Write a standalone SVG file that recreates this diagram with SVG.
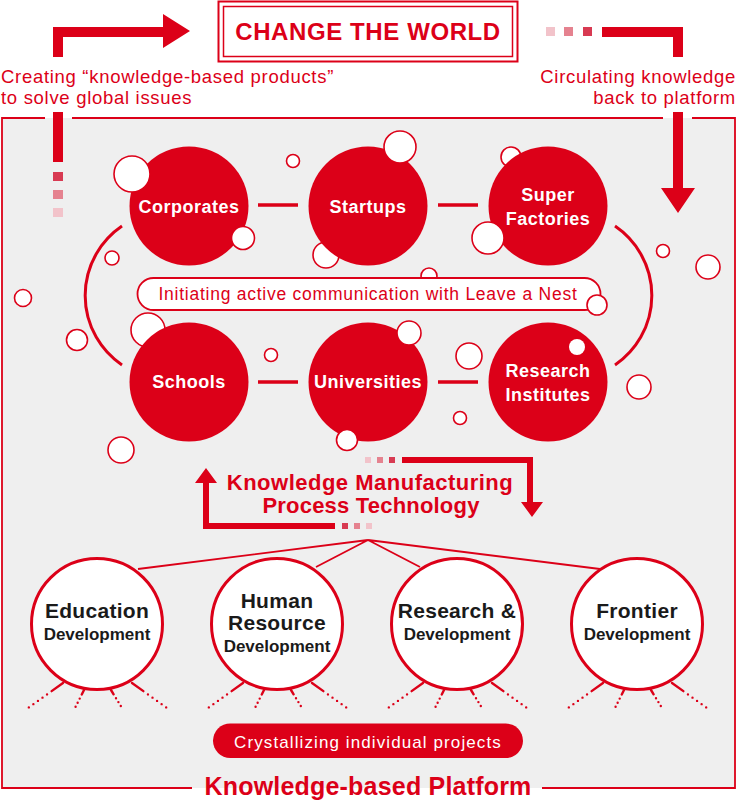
<svg xmlns="http://www.w3.org/2000/svg" xmlns:xlink="http://www.w3.org/1999/xlink" width="737" height="800" viewBox="0 0 737 800">
<style>
text{font-family:"Liberation Sans",Arial,Helvetica,sans-serif}
.red{fill:#dc0018}
.bub{fill:#ffffff;stroke:#dc0018;stroke-width:1.6}
.big{fill:#dc0018}
.wl{fill:#ffffff;font-weight:bold;font-size:18px;letter-spacing:0.5px;text-anchor:middle}
.cap{fill:#dc0018;font-size:18.5px;letter-spacing:0.7px}
.bl{fill:#1a1a1a;font-weight:bold;text-anchor:middle}
.h1{font-size:21px;letter-spacing:0.3px}
.h2{font-size:17px}
.link{stroke:#dc0018;stroke-width:3.5;fill:none}
.arc{stroke:#dc0018;stroke-width:3;fill:none}
.fan{stroke:#dc0018;stroke-width:1.8;fill:none}
.dc{fill:#ffffff;stroke:#dc0018;stroke-width:3}
.ray{stroke:#dc0018;stroke-width:2.4;fill:none;stroke-linecap:round}
.rl{stroke-dasharray:14 5.6 0 5.6 0 5.6 0 5.6 0 5.6 0 5.6 0 5.6}
.rs{stroke-dasharray:5 4.6 0 4.6 0 4.6 0 4.6 0 4.6}
.s1{fill:#d83a52}.s2{fill:#e5828f}.s3{fill:#f2c3ca}
</style>
<defs>
<g id="rays">
<path class="ray rl" d="M-34,59 L-69,84"/>
<path class="ray rs" d="M-13,66 L-22,84"/>
<path class="ray rs" d="M14,66 L25,84"/>
<path class="ray rl" d="M35,59 L70,84"/>
</g>
</defs>

<!-- platform -->
<rect x="2" y="118" width="733" height="670" fill="#efefef"/>
<path d="M45,118 H2 V788 H192 M542,788 H735 V118 H692 M663,118 H72" fill="none" stroke="#dc0018" stroke-width="1.8"/>

<!-- title -->
<g id="title">
<rect x="218.5" y="1.5" width="299" height="60" fill="#ffffff" stroke="#dc0018" stroke-width="2"/>
<rect x="223.5" y="6.5" width="289" height="50" fill="none" stroke="#dc0018" stroke-width="1.5"/>
<text x="368" y="40" text-anchor="middle" class="red" style="font-weight:bold;font-size:24px;letter-spacing:0.6px">CHANGE THE WORLD</text>
</g>

<!-- top captions -->
<g id="caption-left">
<text x="1" y="83" class="cap">Creating “knowledge-based products”</text>
<text x="1" y="104" class="cap">to solve global issues</text>
</g>
<g id="caption-right">
<text x="736" y="83" class="cap" text-anchor="end">Circulating knowledge</text>
<text x="736" y="104" class="cap" text-anchor="end">back to platform</text>
</g>

<g id="connectors">
<!-- top-left arrow -->
<path class="red" d="M53,57 V27 H163 V14 L190,31 L163,48 V37 H63 V57 Z"/>
<rect class="red" x="53" y="112" width="10" height="50"/>
<rect class="s1" x="53" y="172" width="10" height="9"/>
<rect class="s2" x="53" y="190" width="10" height="9"/>
<rect class="s3" x="53" y="208" width="10" height="9"/>
<!-- top-right arrow -->
<rect class="s3" x="546" y="27" width="9" height="9"/>
<rect class="s2" x="564" y="27" width="9" height="9"/>
<rect class="s1" x="583" y="27" width="9" height="9"/>
<path class="red" d="M602,27 H683 V57 H673 V37 H602 Z"/>
<path class="red" d="M673,112 H683 V188 H695 L678,213 L661,188 H673 Z"/>
<!-- links between circles -->
<path class="link" d="M258,205 H298 M438,205 H478 M258,382 H298 M438,382 H478"/>
<path class="arc" d="M122,226 A84,84 0 0 0 122,365"/>
<path class="arc" d="M615,226 A84,84 0 0 1 615,365"/>
<!-- knowledge manufacturing arrows -->
<rect class="s3" x="365" y="457" width="6" height="6"/>
<rect class="s2" x="377" y="457" width="6" height="6"/>
<rect class="s1" x="389" y="457" width="6" height="6"/>
<path class="red" d="M402,457 H533 V502 H543 L532,517 L521,502 H527 V463 H402 Z"/>
<path class="red" d="M335,529 H203 V483 H195 L206,468 L217,483 H209 V523 H335 Z"/>
<rect class="s1" x="342" y="523" width="6" height="6"/>
<rect class="s2" x="354" y="523" width="6" height="6"/>
<rect class="s3" x="366" y="523" width="6" height="6"/>
<!-- fan lines -->
<path class="fan" d="M368,540 L138,569 M368,540 L316,567 M368,540 L420,567 M368,540 L600,569"/>
</g>

<!-- bubbles behind -->
<g id="bubbles-back">
<circle class="bub" cx="326" cy="255" r="13"/>
<circle class="bub" cx="511" cy="157" r="10"/>
<circle class="bub" cx="148" cy="330" r="17"/>
<circle class="bub" cx="429" cy="276" r="8"/>
</g>

<g id="node-corporates">
<circle class="big" cx="189" cy="206" r="59.5"/>
<text class="wl" x="189" y="213">Corporates</text>
</g>
<g id="node-startups">
<circle class="big" cx="368" cy="206" r="59.5"/>
<text class="wl" x="368" y="213">Startups</text>
</g>
<g id="node-superfactories">
<circle class="big" cx="548" cy="206" r="59.5"/>
<text class="wl" x="548" y="201">Super</text>
<text class="wl" x="548" y="225">Factories</text>
</g>
<g id="node-schools">
<circle class="big" cx="189" cy="382" r="59.5"/>
<text class="wl" x="189" y="388">Schools</text>
</g>
<g id="node-universities">
<circle class="big" cx="368" cy="382" r="59.5"/>
<text class="wl" x="368" y="388">Universities</text>
</g>
<g id="node-research-institutes">
<circle class="big" cx="548" cy="382" r="59.5"/>
<text class="wl" x="548" y="377">Research</text>
<text class="wl" x="548" y="401">Institutes</text>
</g>

<g id="communication">
<rect x="137.5" y="278" width="463" height="32" rx="16" fill="#ffffff" stroke="#dc0018" stroke-width="1.8"/>
<text x="368" y="300" class="red" text-anchor="middle" style="font-size:17.5px;letter-spacing:0.75px">Initiating active communication with Leave a Nest</text>
</g>

<!-- bubbles front -->
<g id="bubbles-front">
<circle class="bub" cx="132" cy="174" r="18"/>
<circle class="bub" cx="293" cy="161" r="6.5"/>
<circle class="bub" cx="243" cy="238" r="11.5"/>
<circle class="bub" cx="400" cy="147" r="16"/>
<circle class="bub" cx="488" cy="238" r="16"/>
<circle class="bub" cx="112" cy="258" r="7"/>
<circle class="bub" cx="23" cy="298" r="8.5"/>
<circle class="bub" cx="77" cy="340" r="10.5"/>
<circle class="bub" cx="121" cy="450" r="13"/>
<circle class="bub" cx="271" cy="355" r="6.5"/>
<circle class="bub" cx="347" cy="440" r="10.5"/>
<circle class="bub" cx="409" cy="333" r="12"/>
<circle class="bub" cx="469" cy="356" r="13"/>
<circle class="bub" cx="460" cy="418" r="6.5"/>
<circle class="bub" cx="597" cy="305" r="10"/>
<circle class="bub" cx="663" cy="251" r="6.5"/>
<circle class="bub" cx="708" cy="267" r="12"/>
<circle class="bub" cx="639" cy="387" r="12"/>
<circle cx="577" cy="347" r="8" fill="#ffffff"/>
</g>

<g id="kmpt">
<text x="370" y="490" class="red" text-anchor="middle" style="font-weight:bold;font-size:22px;letter-spacing:0.5px">Knowledge Manufacturing</text>
<text x="371" y="513" class="red" text-anchor="middle" style="font-weight:bold;font-size:22px;letter-spacing:0.2px">Process Technology</text>
</g>

<g id="node-education">
<use xlink:href="#rays" href="#rays" x="97" y="624"/>
<circle class="dc" cx="97" cy="624" r="65.5"/>
<text class="bl h1" x="97" y="618">Education</text>
<text class="bl h2" x="97" y="640">Development</text>
</g>
<g id="node-human-resource">
<use xlink:href="#rays" href="#rays" x="277" y="624"/>
<circle class="dc" cx="277" cy="624" r="65.5"/>
<text class="bl h1" x="277" y="608">Human</text>
<text class="bl h1" x="277" y="630">Resource</text>
<text class="bl h2" x="277" y="652">Development</text>
</g>
<g id="node-research-development">
<use xlink:href="#rays" href="#rays" x="457" y="624"/>
<circle class="dc" cx="457" cy="624" r="65.5"/>
<text class="bl h1" x="457" y="618">Research &amp;</text>
<text class="bl h2" x="457" y="640">Development</text>
</g>
<g id="node-frontier">
<use xlink:href="#rays" href="#rays" x="637" y="624"/>
<circle class="dc" cx="637" cy="624" r="65.5"/>
<text class="bl h1" x="637" y="618">Frontier</text>
<text class="bl h2" x="637" y="640">Development</text>
</g>

<g id="crystallizing">
<rect class="red" x="213" y="723.5" width="310" height="34.5" rx="17.25"/>
<text x="368" y="748" text-anchor="middle" fill="#ffffff" style="font-size:17px;letter-spacing:1.1px">Crystallizing individual projects</text>
</g>

<g id="platform-label">
<text x="368" y="795" class="red" text-anchor="middle" style="font-weight:bold;font-size:25px;letter-spacing:0.2px">Knowledge-based Platform</text>
</g>
</svg>
